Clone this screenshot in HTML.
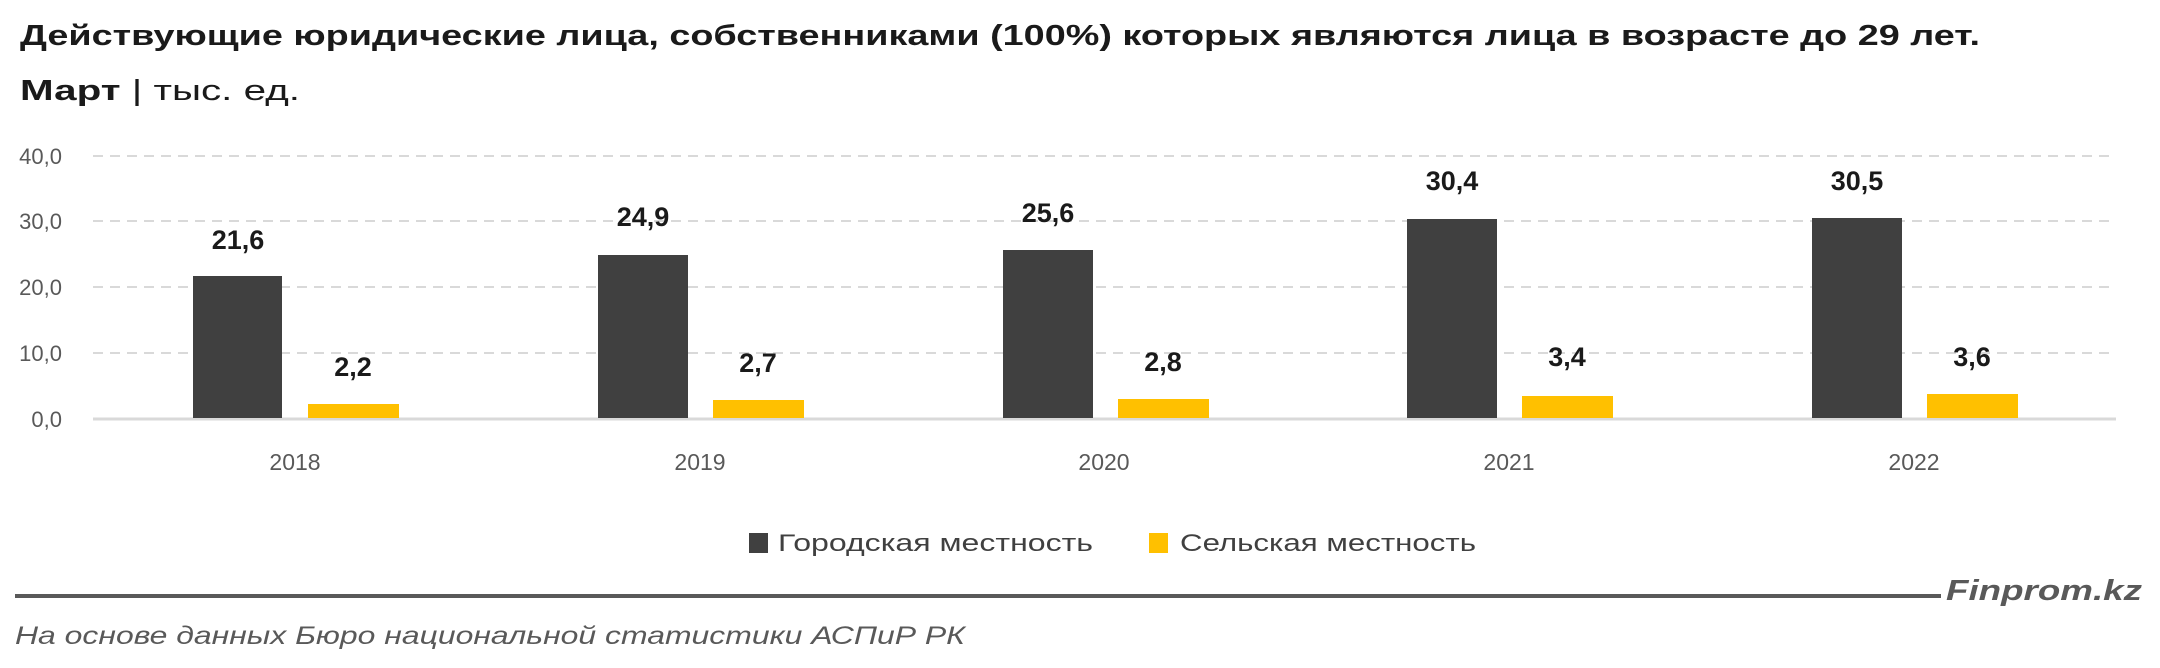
<!DOCTYPE html>
<html><head><meta charset="utf-8"><style>
html,body{margin:0;padding:0;background:#fff;}
svg{display:block;}
text{font-family:"Liberation Sans","DejaVu Sans",sans-serif;}
</style></head><body>
<svg width="2160" height="668" viewBox="0 0 2160 668" xmlns="http://www.w3.org/2000/svg">
<rect width="2160" height="668" fill="#fff"/>
<text x="20" y="45" font-size="29" font-weight="bold" fill="#1a1a1a" textLength="1960" lengthAdjust="spacingAndGlyphs">Действующие юридические лица, собственниками (100%) которых являются лица в возрасте до 29 лет.</text>
<text x="20" y="100" font-size="29" fill="#1a1a1a" textLength="280" lengthAdjust="spacingAndGlyphs"><tspan font-weight="bold">Март</tspan> | тыс. ед.</text>
<g stroke="#d9d9d9" stroke-width="2" stroke-dasharray="10,7">
<line x1="93" y1="156" x2="2116" y2="156"/>
<line x1="93" y1="221" x2="2116" y2="221"/>
<line x1="93" y1="287" x2="2116" y2="287"/>
<line x1="93" y1="353" x2="2116" y2="353"/>
</g>
<line x1="93" y1="419" x2="2116" y2="419" stroke="#d9d9d9" stroke-width="3"/>
<g font-size="22" fill="#595959" text-anchor="end">
<text x="62" y="164">40,0</text>
<text x="62" y="229">30,0</text>
<text x="62" y="295">20,0</text>
<text x="62" y="361">10,0</text>
<text x="62" y="427">0,0</text>
</g>
<g fill="#404040">
<rect x="193" y="276" width="89" height="142"/>
<rect x="598" y="255" width="90" height="163"/>
<rect x="1003" y="250" width="90" height="168"/>
<rect x="1407" y="219" width="90" height="199"/>
<rect x="1812" y="218" width="90" height="200"/>
</g>
<g fill="#ffc000">
<rect x="308" y="404" width="91" height="14"/>
<rect x="713" y="400" width="91" height="18"/>
<rect x="1118" y="399" width="91" height="19"/>
<rect x="1522" y="396" width="91" height="22"/>
<rect x="1927" y="394" width="91" height="24"/>
</g>
<g font-size="27" font-weight="bold" fill="#1a1a1a" text-anchor="middle">
<text x="238" y="249">21,6</text>
<text x="643" y="226">24,9</text>
<text x="1048" y="222">25,6</text>
<text x="1452" y="190">30,4</text>
<text x="1857" y="190">30,5</text>
<text x="353" y="376">2,2</text>
<text x="758" y="372">2,7</text>
<text x="1163" y="371">2,8</text>
<text x="1567" y="366">3,4</text>
<text x="1972" y="366">3,6</text>
</g>
<g font-size="23" fill="#595959" text-anchor="middle">
<text x="295" y="470">2018</text>
<text x="700" y="470">2019</text>
<text x="1104" y="470">2020</text>
<text x="1509" y="470">2021</text>
<text x="1914" y="470">2022</text>
</g>
<rect x="749" y="533" width="19" height="20" fill="#404040"/>
<text x="778" y="551" font-size="24" fill="#404040" textLength="315" lengthAdjust="spacingAndGlyphs">Городская местность</text>
<rect x="1149" y="533" width="19" height="20" fill="#ffc000"/>
<text x="1180" y="551" font-size="24" fill="#404040" textLength="296" lengthAdjust="spacingAndGlyphs">Сельская местность</text>
<line x1="15" y1="596" x2="1941" y2="596" stroke="#595959" stroke-width="4"/>
<text x="1946" y="600" font-size="29" font-weight="bold" font-style="italic" fill="#595959" textLength="196" lengthAdjust="spacingAndGlyphs">Finprom.kz</text>
<text x="15" y="644" font-size="25" font-style="italic" fill="#595959" textLength="950" lengthAdjust="spacingAndGlyphs">На основе данных Бюро национальной статистики АСПиР РК</text>
</svg>
</body></html>
